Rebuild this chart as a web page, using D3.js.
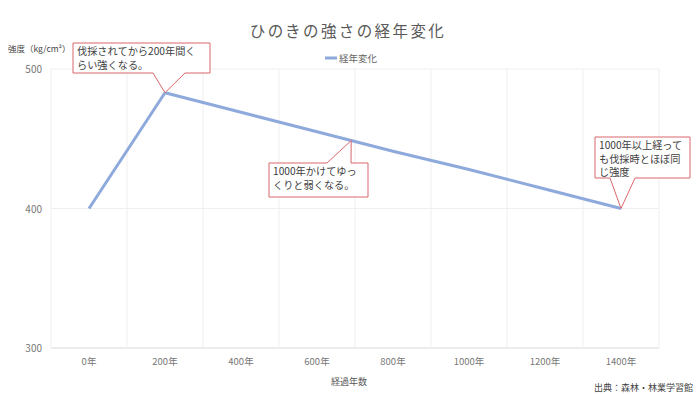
<!DOCTYPE html>
<html>
<head>
<meta charset="utf-8">
<script src="https://cdn.jsdelivr.net/npm/d3@7"></script>
<style>
  body { margin: 0; background: #fff; }
  svg { display: block; font-family: "Noto Sans CJK JP", "Noto Sans", sans-serif; }
</style>
</head>
<body>
<svg id="chart" width="700" height="394"></svg>
<script>
/* ── Data ─────────────────────────────────────────────── */
const categories = ["0年", "200年", "400年", "600年", "800年", "1000年", "1200年", "1400年"];
const strength   = [400, 483, 469, 455, 441, 428, 414, 400];
const yTicks     = [300, 400, 500];

/* callouts: anchor category index, text lines, box + tail geometry */
const notes = [
  { idx: 1, lines: ["伐採されてから200年間く", "らい強くなる。"],
    box: [73, 43, 137, 30], tail: [153, 185], side: "bottom" },
  { idx: 3.45, lines: ["1000年かけてゆっ", "くりと弱くなる。"],
    box: [269, 163, 99, 34], tail: [327, 351], side: "top" },
  { idx: 7, lines: ["1000年以上経って", "も伐採時とほぼ同", "じ強度"],
    box: [595, 137, 95, 41], tail: [610, 635], side: "bottom" },
];

/* ── Layout ───────────────────────────────────────────── */
const svg = d3.select("#chart");
const pLeft = 51, pRight = 659, pTop = 69, pBottom = 348;

const x = d3.scaleBand().domain(categories).range([pLeft, pRight]);
const y = d3.scaleLinear().domain([300, 500]).range([pBottom, pTop]);
const cx = i => pLeft + x.bandwidth() * (i + 0.5);

/* gridlines */
svg.append("g").selectAll("line")
  .data(yTicks)
  .enter().append("line")
    .attr("x1", pLeft).attr("x2", pRight)
    .attr("y1", d => y(d)).attr("y2", d => y(d))
    .attr("stroke", d => d === 300 ? "#d9d9d9" : "#efefef");

svg.append("g").selectAll("line")
  .data(d3.range(categories.length + 1))
  .enter().append("line")
    .attr("x1", i => pLeft + x.bandwidth() * i)
    .attr("x2", i => pLeft + x.bandwidth() * i)
    .attr("y1", pTop).attr("y2", pBottom)
    .attr("stroke", "#efefef");

/* y tick labels */
svg.append("g").selectAll("text")
  .data(yTicks)
  .enter().append("text")
    .attr("x", 42).attr("y", d => y(d) + 4)
    .attr("text-anchor", "end")
    .attr("font-size", 10).attr("fill", "#777")
    .text(d => d);

/* x tick labels */
svg.append("g").selectAll("text")
  .data(categories)
  .enter().append("text")
    .attr("x", d => x(d) + x.bandwidth() / 2).attr("y", 365)
    .attr("text-anchor", "middle")
    .attr("font-size", 9.5).attr("fill", "#777")
    .text(d => d);

/* line series */
svg.append("path")
  .datum(strength)
  .attr("fill", "none")
  .attr("stroke", "#8ea9db")
  .attr("stroke-width", 3)
  .attr("stroke-linejoin", "round")
  .attr("d", d3.line().x((d, i) => cx(i)).y(d => y(d)));

/* titles */
svg.append("text")
  .attr("x", 348).attr("y", 37)
  .attr("text-anchor", "middle")
  .attr("font-size", 15.5).attr("letter-spacing", 2.4)
  .attr("fill", "#595959")
  .text("ひのきの強さの経年変化");

svg.append("line")
  .attr("x1", 325).attr("x2", 337).attr("y1", 58).attr("y2", 58)
  .attr("stroke", "#8ea9db").attr("stroke-width", 3);
svg.append("text")
  .attr("x", 339).attr("y", 62)
  .attr("font-size", 9.5).attr("fill", "#666")
  .text("経年変化");

svg.append("text")
  .attr("x", 8).attr("y", 52)
  .attr("font-size", 8.5).attr("fill", "#444")
  .text("強度（kg/cm²）");

svg.append("text")
  .attr("x", 349).attr("y", 385)
  .attr("text-anchor", "middle")
  .attr("font-size", 9).attr("fill", "#555")
  .text("経過年数");

svg.append("text")
  .attr("x", 693).attr("y", 391)
  .attr("text-anchor", "end")
  .attr("font-size", 9).attr("fill", "#444")
  .text("出典：森林・林業学習館");

/* ── Callouts ─────────────────────────────────────────── */
notes.forEach(n => {
  const [bx, by, bw, bh] = n.box;
  const i0 = Math.floor(n.idx), f = n.idx - i0;
  const val = f === 0 ? strength[i0] : strength[i0] + (strength[i0 + 1] - strength[i0]) * f;
  const px = cx(n.idx), py = y(val);
  const edge = n.side === "bottom" ? by + bh : by;
  const [t1, t2] = n.tail;

  /* box outline with tail drawn as one path */
  let d;
  if (n.side === "bottom") {
    d = `M${bx},${by} H${bx + bw} V${by + bh} H${t2} L${px},${py} L${t1},${edge} H${bx} Z`;
  } else {
    d = `M${bx},${by} H${t1} L${px},${py} L${t2},${edge} H${bx + bw} V${by + bh} H${bx} Z`;
  }
  svg.append("path")
    .attr("d", d)
    .attr("fill", "#fff")
    .attr("stroke", "#d9666e")
    .attr("stroke-width", 1);

  svg.append("text")
    .attr("font-size", 10.2).attr("fill", "#404040")
    .selectAll("tspan")
    .data(n.lines)
    .enter().append("tspan")
      .attr("x", bx + 4)
      .attr("y", (d, i) => by + 12 + i * 13.5)
      .text(d => d);
});
</script>
</body>
</html>
